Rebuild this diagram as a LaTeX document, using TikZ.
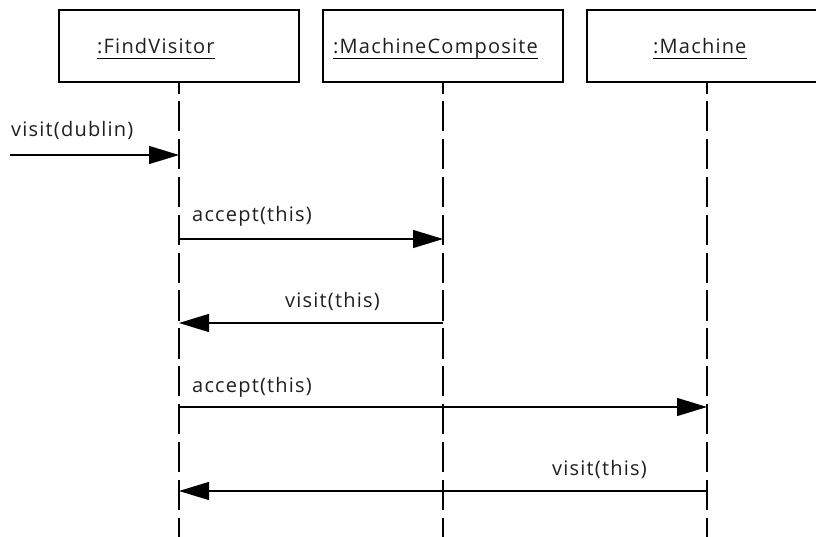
\documentclass[tikz,border=0pt]{standalone}
\usepackage{fontspec}
\setmainfont{Open Sans}[LetterSpace=6]
\usetikzlibrary{arrows.meta}
\begin{document}
\begin{tikzpicture}[x=1pt,y=-1pt,
  obj/.style={draw,line width=1.3pt,minimum width=240pt,minimum height=72pt,inner sep=0pt},
  lbl/.style={inner sep=0pt,anchor=base west,text=black!88,font=\fontsize{20}{24}\selectfont},
  uline/.style={line width=1.3pt},
  life/.style={line width=1.3pt,dash pattern=on 30.3pt off 7.55pt,dash phase=19.3pt},
  msg/.style={line width=1.3pt,-{Triangle[length=30pt,width=18pt]}}]
\useasboundingbox (0,0) rectangle (816,537);
\clip (0,0) rectangle (816,537);
% objects
\node[obj] (fv) at (179,46) {};
\node[obj] (mc) at (443,46) {};
\node[obj] (m) at (707,46) {};
\node[lbl] (fvl) at (97,54) {:FindVisitor};
\node[lbl] (mcl) at (333,54) {:MachineComposite};
\node[lbl] (ml) at (653,54) {:Machine};
\draw[uline] ([yshift=-4.3pt]fvl.base west) -- ([yshift=-4.3pt]fvl.base east);
\draw[uline] ([yshift=-4.3pt]mcl.base west) -- ([yshift=-4.3pt]mcl.base east);
\draw[uline] ([yshift=-4.3pt]ml.base west) -- ([yshift=-4.3pt]ml.base east);
% lifelines
\coordinate (fvend) at (179,537);
\coordinate (mcend) at (443,537);
\coordinate (mend) at (707,537);
\draw[life] (fv.south) -- (fvend);
\draw[life] (mc.south) -- (mcend);
\draw[life] (m.south) -- (mend);
% message points
\coordinate (in) at (10,155);
\coordinate (fv1) at (179,155);
\coordinate (fv2) at (179,239);
\coordinate (mc2) at (443,239);
\coordinate (fv3) at (179,323);
\coordinate (mc3) at (443,323);
\coordinate (fv4) at (179,407);
\coordinate (m4) at (707,407);
\coordinate (fv5) at (179,491);
\coordinate (m5) at (707,491);
% messages
\draw[msg] (in) -- (fv1);
\draw[msg] (fv2) -- (mc2);
\draw[msg] (mc3) -- (fv3);
\draw[msg] (fv4) -- (m4);
\draw[msg] (m5) -- (fv5);
% labels
\node[lbl] (t1) at (11,137) {visit(dublin)};
\node[lbl] (t2) at (192,222) {accept(this)};
\node[lbl] (t3) at (285,307) {visit(this)};
\node[lbl] (t4) at (192,392) {accept(this)};
\node[lbl] (t5) at (552,475) {visit(this)};
\end{tikzpicture}
\end{document}
